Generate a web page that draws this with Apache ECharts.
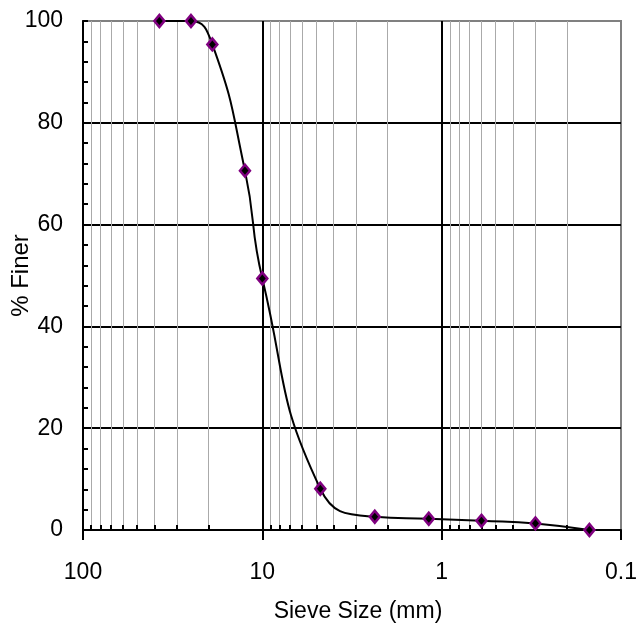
<!DOCTYPE html>
<html>
<head>
<meta charset="utf-8">
<script src="https://cdn.jsdelivr.net/npm/echarts@6/dist/echarts.min.js"></script>
<style>
html,body{margin:0;padding:0;background:#fff;}
#c{width:637px;height:626px;}
</style>
</head>
<body>
<div id="c"></div>
<script>
// Sieve sizes (mm) and percent finer
const sizes = [37.5, 25, 19, 12.5, 10, 4.75, 2.36, 1.18, 0.6, 0.3, 0.15];
const finer = [100, 100, 95.4, 70.6, 49.4, 8.1, 2.6, 2.2, 1.8, 1.3, 0];
// Minor log grid positions (mm)
const xMinor = [90, 80, 70, 60, 50, 40, 30, 20, 9, 8, 7, 6, 5, 4, 3, 2, 0.9, 0.8, 0.7, 0.6, 0.5, 0.4, 0.3, 0.2];
const yMin = 0, yMax = 100, yStep = 20;

const FONT = "'Liberation Sans', Arial, sans-serif";

const chart = echarts.init(document.getElementById('c'), null, {renderer: 'canvas'});
chart.setOption({
  animation: false,
  backgroundColor: '#fff',
  grid: {left: 83, right: 16, top: 21, bottom: 96, containLabel: false, outerBoundsMode: 'none',
    show: true, borderColor: '#808080', borderWidth: 2, backgroundColor: 'transparent'},
  xAxis: {
    type: 'log', logBase: 10, min: 0.1, max: 100, inverse: true,
    name: 'Sieve Size (mm)', nameLocation: 'middle', nameGap: 70, nameMoveOverlap: false,
    nameTextStyle: {fontFamily: FONT, fontSize: 23, color: '#000', padding: [0, 0, 0, 12]},
    axisLine: {show: true, onZero: false, lineStyle: {color: '#000', width: 2}},
    axisTick: {show: true, length: 10, lineStyle: {color: '#000', width: 2}},
    axisLabel: {margin: 31, fontFamily: FONT, fontSize: 23, color: '#000',
      formatter: v => String(+(+v).toPrecision(6))},
    splitLine: {show: true, showMinLine: false, showMaxLine: false, lineStyle: {color: '#000', width: 2}}
  },
  yAxis: {
    type: 'value', min: yMin, max: yMax, interval: yStep,
    name: '% Finer', nameLocation: 'middle', nameGap: 50, nameRotate: 90, nameMoveOverlap: false,
    nameTextStyle: {fontFamily: FONT, fontSize: 24, color: '#000'},
    axisLine: {show: true, lineStyle: {color: '#000', width: 2}},
    axisTick: {show: true, inside: true, length: 5, lineStyle: {color: '#000', width: 2}},
    minorTick: {show: true, splitNumber: 5, length: 5, lineStyle: {color: '#000', width: 2}},
    axisLabel: {margin: 20, fontFamily: FONT, fontSize: 23, color: '#000'},
    splitLine: {show: true, showMaxLine: false, lineStyle: {color: '#000', width: 2}}
  },
  series: [
    {
      type: 'line', data: [], z: 1, silent: true,
      markLine: {
        silent: true, symbol: 'none', animation: false, label: {show: false},
        lineStyle: {color: '#aaaaaa', width: 1, type: 'solid'},
        data: xMinor.map(v => ({xAxis: v}))
      }
    },
    {
      type: 'line', data: [], z: 3, silent: true,
      markLine: {
        silent: true, symbol: 'none', animation: false, label: {show: false},
        lineStyle: {color: '#000', width: 2, type: 'solid'},
        data: xMinor.map(v => [{coord: [v, 0]}, {coord: [v, 1]}])
      }
    },
    {
      type: 'line', z: 5,
      data: sizes.map((s, i) => [s, finer[i]]),
      smooth: 0.5,
      lineStyle: {color: '#000', width: 2},
      symbol: 'diamond', symbolSize: [10, 12],
      itemStyle: {color: '#000', borderColor: '#800080', borderWidth: 2.5}
    }
  ]
});
</script>
</body>
</html>
